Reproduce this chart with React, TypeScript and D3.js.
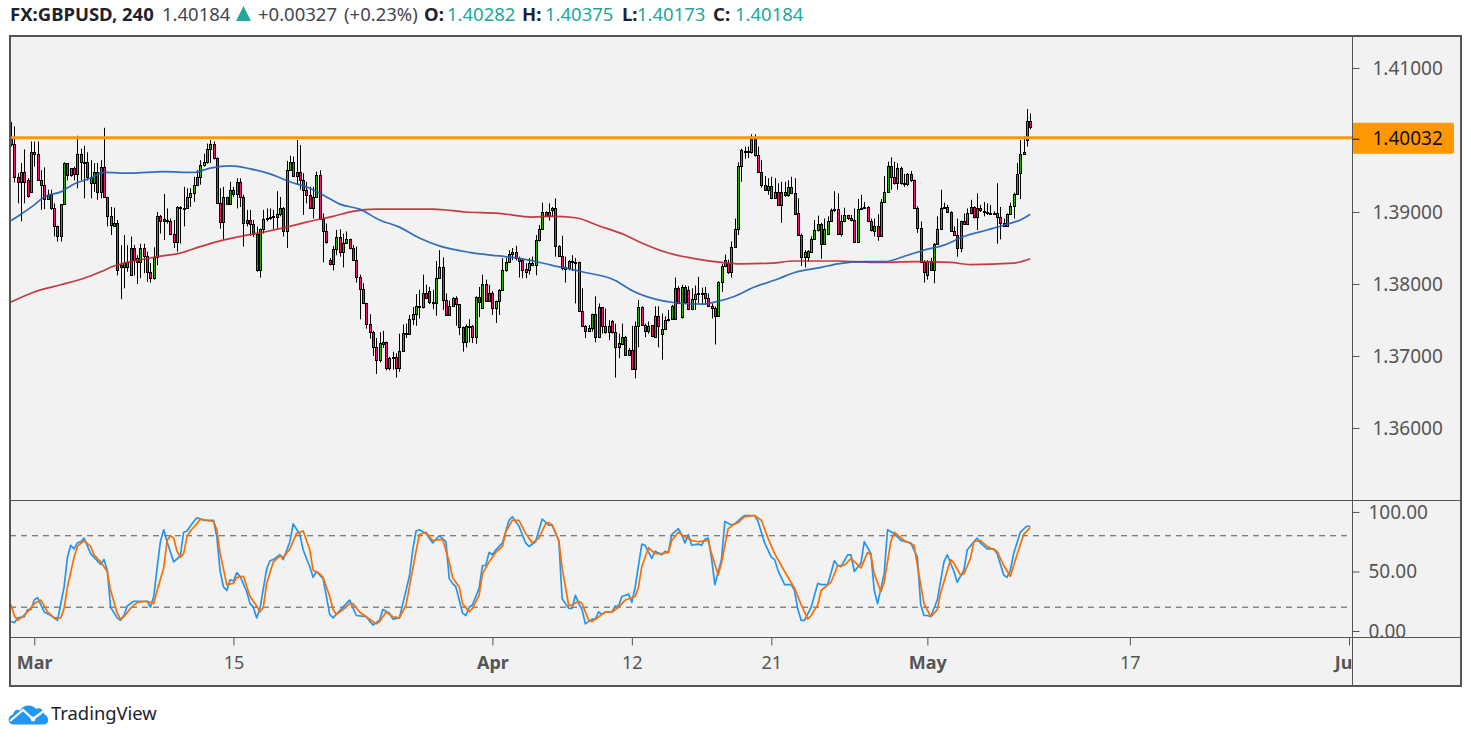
import React, { useEffect, useRef } from "react";
import * as d3 from "d3";

// 4h GBPUSD bars, oldest first
const opens = [
  1.4002,1.3995,1.3949,1.3942,1.3956,1.3944,1.3928,1.3984,1.3981,1.3944,
  1.3937,1.3918,1.3925,1.3906,1.3881,1.3866,1.3911,1.3968,1.3951,1.3961,
  1.3953,1.3981,1.3970,1.3969,1.3941,1.3941,1.3955,1.3928,1.3962,1.3921,
  1.3894,1.3881,1.3885,1.3824,1.3824,1.3824,1.3812,1.3850,1.3831,1.3831,
  1.3850,1.3839,1.3816,1.3808,1.3838,1.3895,1.3887,1.3889,1.3887,1.3870,
  1.3858,1.3907,1.3905,1.3905,1.3921,1.3926,1.3938,1.3949,1.3965,1.3969,
  1.3988,1.3994,1.3975,1.3912,1.3886,1.3921,1.3911,1.3931,1.3925,1.3942,
  1.3921,1.3889,1.3889,1.3884,1.3870,1.3819,1.3876,1.3890,1.3891,1.3893,
  1.3893,1.3897,1.3906,1.3874,1.3959,1.3969,1.3950,1.3955,1.3944,1.3931,
  1.3924,1.3906,1.3921,1.3951,1.3890,1.3873,1.3834,1.3828,1.3848,1.3865,
  1.3845,1.3857,1.3862,1.3850,1.3834,1.3810,1.3793,1.3773,1.3745,1.3734,
  1.3713,1.3694,1.3719,1.3719,1.3684,1.3697,1.3699,1.3684,1.3707,1.3731,
  1.3731,1.3751,1.3758,1.3768,1.3768,1.3788,1.3790,1.3775,1.3774,1.3809,
  1.3823,1.3778,1.3757,1.3769,1.3781,1.3772,1.3740,1.3719,1.3740,1.3742,
  1.3727,1.3782,1.3767,1.3800,1.3777,1.3788,1.3767,1.3776,1.3792,1.3819,
  1.3830,1.3841,1.3845,1.3836,1.3834,1.3821,1.3819,1.3827,1.3827,1.3861,
  1.3876,1.3900,1.3894,1.3903,1.3905,1.3853,1.3839,1.3821,1.3822,1.3832,
  1.3831,1.3830,1.3762,1.3742,1.3735,1.3739,1.3759,1.3727,1.3768,1.3741,
  1.3733,1.3749,1.3734,1.3713,1.3717,1.3727,1.3702,1.3709,1.3682,1.3741,
  1.3768,1.3743,1.3735,1.3743,1.3727,1.3756,1.3730,1.3737,1.3750,1.3752,
  1.3752,1.3795,1.3754,1.3796,1.3792,1.3765,1.3779,1.3786,1.3786,1.3787,
  1.3781,1.3770,1.3766,1.3756,1.3803,1.3825,1.3829,1.3816,1.3851,1.3876,
  1.3964,1.3985,1.3984,1.3984,1.4002,1.3979,1.3956,1.3938,1.3930,1.3936,
  1.3920,1.3928,1.3910,1.3928,1.3923,1.3935,1.3927,1.3898,1.3868,1.3837,
  1.3837,1.3844,1.3863,1.3875,1.3884,1.3856,1.3869,1.3888,1.3903,1.3904,
  1.3869,1.3887,1.3896,1.3891,1.3889,1.3859,1.3904,1.3906,1.3907,1.3887,
  1.3874,1.3880,1.3867,1.3914,1.3928,1.3964,1.3949,1.3941,1.3961,1.3941,
  1.3939,1.3953,1.3944,1.3906,1.3878,1.3831,1.3812,1.3832,1.3819,1.3856,
  1.3877,1.3906,1.3907,1.3900,1.3874,1.3868,1.3850,1.3887,1.3883,1.3898,
  1.3907,1.3893,1.3905,1.3901,1.3900,1.3899,1.3897,1.3899,1.3893,1.3885,
  1.3881,1.3897,1.3909,1.3925,1.3954,1.3981,1.4000,1.4027,
];
const closes = [
  1.3995,1.3949,1.3942,1.3956,1.3942,1.3922,1.3984,1.3981,1.3944,1.3937,
  1.3918,1.3924,1.3906,1.3881,1.3866,1.3911,1.3968,1.3951,1.3961,1.3953,
  1.3981,1.3970,1.3968,1.3948,1.3948,1.3955,1.3928,1.3962,1.3921,1.3894,
  1.3882,1.3885,1.3819,1.3826,1.3829,1.3830,1.3850,1.3833,1.3836,1.3850,
  1.3839,1.3816,1.3808,1.3838,1.3895,1.3887,1.3890,1.3888,1.3870,1.3858,
  1.3907,1.3906,1.3906,1.3921,1.3926,1.3938,1.3949,1.3965,1.3969,1.3988,
  1.3994,1.3975,1.3912,1.3886,1.3921,1.3911,1.3931,1.3925,1.3942,1.3921,
  1.3885,1.3885,1.3884,1.3869,1.3819,1.3876,1.3890,1.3891,1.3893,1.3894,
  1.3897,1.3906,1.3874,1.3959,1.3969,1.3950,1.3955,1.3944,1.3931,1.3924,
  1.3906,1.3921,1.3951,1.3890,1.3873,1.3859,1.3828,1.3848,1.3865,1.3845,
  1.3857,1.3862,1.3850,1.3834,1.3810,1.3793,1.3773,1.3745,1.3734,1.3713,
  1.3694,1.3718,1.3717,1.3684,1.3697,1.3699,1.3684,1.3707,1.3732,1.3732,
  1.3751,1.3758,1.3769,1.3769,1.3788,1.3781,1.3775,1.3774,1.3809,1.3823,
  1.3778,1.3757,1.3769,1.3781,1.3772,1.3740,1.3719,1.3741,1.3742,1.3727,
  1.3782,1.3775,1.3800,1.3777,1.3788,1.3767,1.3776,1.3792,1.3819,1.3830,
  1.3841,1.3845,1.3836,1.3832,1.3819,1.3817,1.3829,1.3829,1.3861,1.3876,
  1.3900,1.3894,1.3900,1.3905,1.3853,1.3839,1.3822,1.3823,1.3832,1.3831,
  1.3830,1.3762,1.3742,1.3735,1.3739,1.3759,1.3727,1.3768,1.3741,1.3733,
  1.3741,1.3734,1.3713,1.3718,1.3727,1.3702,1.3709,1.3682,1.3741,1.3768,
  1.3743,1.3735,1.3742,1.3728,1.3756,1.3741,1.3737,1.3750,1.3752,1.3769,
  1.3795,1.3773,1.3796,1.3775,1.3765,1.3779,1.3786,1.3787,1.3788,1.3781,
  1.3770,1.3766,1.3756,1.3803,1.3825,1.3833,1.3816,1.3851,1.3876,1.3964,
  1.3986,1.3984,1.3985,1.4002,1.3979,1.3956,1.3938,1.3930,1.3936,1.3920,
  1.3928,1.3910,1.3928,1.3923,1.3935,1.3927,1.3897,1.3868,1.3838,1.3844,
  1.3846,1.3863,1.3875,1.3884,1.3856,1.3876,1.3888,1.3903,1.3904,1.3869,
  1.3887,1.3896,1.3891,1.3889,1.3859,1.3904,1.3906,1.3907,1.3887,1.3875,
  1.3880,1.3867,1.3914,1.3928,1.3964,1.3949,1.3941,1.3961,1.3940,1.3939,
  1.3953,1.3944,1.3906,1.3878,1.3830,1.3816,1.3832,1.3819,1.3856,1.3877,
  1.3906,1.3907,1.3900,1.3874,1.3868,1.3850,1.3888,1.3883,1.3898,1.3907,
  1.3893,1.3905,1.3903,1.3900,1.3899,1.3898,1.3899,1.3893,1.3885,1.3881,
  1.3897,1.3909,1.3925,1.3953,1.3981,1.3984,1.4027,1.4018,
];
const highs = [
  1.4025,1.4019,1.3954,1.3968,1.3987,1.3947,1.3998,1.3998,1.3998,1.3958,
  1.3962,1.3931,1.3931,1.3912,1.3881,1.3911,1.3969,1.3968,1.3961,1.3963,
  1.4006,1.3988,1.3992,1.3983,1.3972,1.3968,1.3968,1.3972,1.4017,1.3921,
  1.3907,1.3906,1.3889,1.3854,1.3868,1.3854,1.3866,1.3854,1.3840,1.3856,
  1.3856,1.3845,1.3829,1.3851,1.3900,1.3896,1.3925,1.3905,1.3891,1.3889,
  1.3908,1.3908,1.3935,1.3933,1.3933,1.3949,1.3958,1.3972,1.3981,1.3995,
  1.4000,1.3998,1.3976,1.3933,1.3935,1.3921,1.3942,1.3935,1.3947,1.3947,
  1.3924,1.3903,1.3903,1.3889,1.3880,1.3877,1.3903,1.3905,1.3905,1.3903,
  1.3929,1.3921,1.3907,1.3971,1.3978,1.3977,1.4000,1.3993,1.3954,1.3942,
  1.3935,1.3935,1.3956,1.3958,1.3898,1.3884,1.3836,1.3853,1.3875,1.3876,
  1.3870,1.3873,1.3863,1.3854,1.3852,1.3813,1.3801,1.3773,1.3758,1.3735,
  1.3725,1.3733,1.3735,1.3720,1.3699,1.3706,1.3704,1.3731,1.3744,1.3745,
  1.3757,1.3768,1.3786,1.3792,1.3813,1.3799,1.3796,1.3792,1.3832,1.3847,
  1.3837,1.3787,1.3777,1.3782,1.3783,1.3772,1.3741,1.3744,1.3751,1.3743,
  1.3783,1.3796,1.3813,1.3806,1.3799,1.3790,1.3777,1.3793,1.3836,1.3836,
  1.3847,1.3850,1.3853,1.3838,1.3836,1.3829,1.3836,1.3838,1.3868,1.3882,
  1.3913,1.3901,1.3912,1.3907,1.3919,1.3854,1.3867,1.3838,1.3833,1.3840,
  1.3836,1.3831,1.3794,1.3743,1.3743,1.3759,1.3783,1.3773,1.3768,1.3766,
  1.3750,1.3750,1.3745,1.3731,1.3745,1.3728,1.3711,1.3742,1.3748,1.3778,
  1.3769,1.3745,1.3748,1.3743,1.3769,1.3769,1.3759,1.3755,1.3764,1.3771,
  1.3809,1.3797,1.3799,1.3798,1.3797,1.3794,1.3798,1.3810,1.3795,1.3796,
  1.3787,1.3773,1.3769,1.3804,1.3828,1.3841,1.3834,1.3859,1.3891,1.3969,
  1.3988,1.3991,1.3991,1.4008,1.4008,1.3991,1.3972,1.3950,1.3947,1.3949,
  1.3947,1.3940,1.3942,1.3942,1.3944,1.3949,1.3947,1.3919,1.3870,1.3847,
  1.3847,1.3866,1.3889,1.3895,1.3885,1.3891,1.3894,1.3905,1.3929,1.3926,
  1.3896,1.3906,1.3896,1.3896,1.3905,1.3918,1.3924,1.3914,1.3908,1.3891,
  1.3891,1.3897,1.3918,1.3950,1.3970,1.3976,1.3970,1.3968,1.3963,1.3953,
  1.3954,1.3957,1.3945,1.3908,1.3887,1.3833,1.3833,1.3836,1.3857,1.3894,
  1.3931,1.3913,1.3910,1.3901,1.3880,1.3891,1.3888,1.3898,1.3905,1.3917,
  1.3908,1.3926,1.3910,1.3914,1.3912,1.3910,1.3901,1.3940,1.3907,1.3891,
  1.3898,1.3913,1.3927,1.3968,1.4000,1.4005,1.4043,1.4037,
];
const lows = [
  1.3991,1.3941,1.3912,1.3887,1.3912,1.3920,1.3927,1.3963,1.3944,1.3903,
  1.3904,1.3917,1.3903,1.3866,1.3859,1.3859,1.3911,1.3944,1.3949,1.3944,
  1.3933,1.3944,1.3919,1.3944,1.3919,1.3928,1.3917,1.3919,1.3921,1.3880,
  1.3868,1.3880,1.3812,1.3779,1.3794,1.3817,1.3812,1.3812,1.3800,1.3808,
  1.3815,1.3803,1.3802,1.3806,1.3826,1.3870,1.3861,1.3884,1.3868,1.3850,
  1.3845,1.3856,1.3880,1.3905,1.3907,1.3914,1.3938,1.3938,1.3963,1.3967,
  1.3968,1.3973,1.3912,1.3877,1.3862,1.3911,1.3910,1.3921,1.3905,1.3907,
  1.3852,1.3880,1.3867,1.3865,1.3817,1.3809,1.3870,1.3887,1.3889,1.3876,
  1.3877,1.3894,1.3866,1.3850,1.3958,1.3949,1.3938,1.3931,1.3896,1.3912,
  1.3904,1.3891,1.3921,1.3889,1.3830,1.3856,1.3826,1.3819,1.3840,1.3838,
  1.3823,1.3856,1.3848,1.3833,1.3802,1.3751,1.3772,1.3738,1.3724,1.3700,
  1.3675,1.3691,1.3711,1.3680,1.3680,1.3681,1.3670,1.3678,1.3706,1.3725,
  1.3731,1.3743,1.3742,1.3752,1.3766,1.3780,1.3772,1.3765,1.3756,1.3808,
  1.3764,1.3756,1.3756,1.3768,1.3742,1.3729,1.3706,1.3712,1.3719,1.3718,
  1.3717,1.3754,1.3766,1.3775,1.3775,1.3757,1.3746,1.3757,1.3791,1.3817,
  1.3829,1.3833,1.3833,1.3809,1.3808,1.3808,1.3813,1.3826,1.3812,1.3859,
  1.3875,1.3894,1.3888,1.3894,1.3838,1.3838,1.3819,1.3802,1.3819,1.3818,
  1.3773,1.3761,1.3741,1.3725,1.3734,1.3734,1.3719,1.3725,1.3731,1.3731,
  1.3722,1.3731,1.3670,1.3697,1.3715,1.3701,1.3701,1.3681,1.3669,1.3712,
  1.3742,1.3726,1.3731,1.3726,1.3726,1.3712,1.3695,1.3736,1.3748,1.3751,
  1.3751,1.3772,1.3752,1.3772,1.3764,1.3764,1.3764,1.3773,1.3772,1.3771,
  1.3769,1.3752,1.3716,1.3755,1.3789,1.3824,1.3814,1.3809,1.3850,1.3868,
  1.3942,1.3974,1.3975,1.3981,1.3977,1.3956,1.3934,1.3930,1.3924,1.3919,
  1.3919,1.3909,1.3885,1.3921,1.3921,1.3926,1.3896,1.3868,1.3825,1.3823,
  1.3831,1.3844,1.3861,1.3873,1.3835,1.3856,1.3868,1.3887,1.3900,1.3868,
  1.3866,1.3886,1.3889,1.3887,1.3857,1.3858,1.3903,1.3905,1.3886,1.3873,
  1.3866,1.3860,1.3866,1.3914,1.3928,1.3931,1.3938,1.3931,1.3938,1.3935,
  1.3936,1.3942,1.3905,1.3871,1.3829,1.3802,1.3806,1.3819,1.3801,1.3856,
  1.3876,1.3905,1.3899,1.3873,1.3867,1.3838,1.3844,1.3882,1.3882,1.3897,
  1.3891,1.3875,1.3900,1.3894,1.3896,1.3896,1.3896,1.3856,1.3862,1.3880,
  1.3880,1.3896,1.3891,1.3924,1.3918,1.3981,1.3991,1.4015,
];

// moving averages, read at the bars where the curve bends
const blueMaBars = [0,3,7,10,15,19,24,28,36,46,55,60,66,72,78,84,90,95,99,105,111,117,123,129,138,147,154,163,172,182,187,194,200,208,213,218,223,231,236,244,249,257,263,270,275,281,287,294,300,304,307];
const blueMa = [1.3888,1.3897,1.3910,1.3921,1.3928,1.3939,1.3947,1.3955,1.3954,1.3956,1.3955,1.3961,1.3964,1.3960,1.3953,1.3942,1.3933,1.3921,1.3911,1.3904,1.3889,1.3879,1.3864,1.3853,1.3844,1.3839,1.3835,1.3826,1.3817,1.3805,1.3791,1.3779,1.3774,1.3772,1.3776,1.3783,1.3794,1.3807,1.3816,1.3823,1.3828,1.3831,1.3831,1.3840,1.3847,1.3854,1.3866,1.3875,1.3883,1.3889,1.3897];
const redMaBars = [0,7,15,22,27,31,37,44,51,57,63,70,77,83,89,97,103,110,127,137,147,157,163,170,177,185,190,198,205,214,220,229,236,249,260,273,283,289,302,307];
const redMa = [1.3775,1.3789,1.3799,1.3808,1.3817,1.3825,1.3832,1.3838,1.3843,1.3852,1.3860,1.3867,1.3873,1.3879,1.3886,1.3894,1.3901,1.3904,1.3904,1.3900,1.3898,1.3893,1.3894,1.3892,1.3881,1.3868,1.3857,1.3843,1.3836,1.3830,1.3828,1.3829,1.3832,1.3832,1.3830,1.3831,1.3830,1.3827,1.3829,1.3835];

// stochastic %K and %D
const stochKBars = [
  0,1,2,4,5,6,7,8,10,12,14,16,17,18,19,20,21,22,24,27,
  28,29,30,32,33,34,35,37,41,42,43,44,45,46,47,49,51,52,53,55,
  56,58,61,62,63,64,65,66,67,68,69,71,72,73,74,75,77,78,79,81,
  82,84,85,87,88,90,91,92,94,96,97,100,102,104,107,109,111,112,114,115,
  117,120,121,122,123,125,127,129,131,132,133,134,136,137,138,139,141,142,143,144,
  145,146,148,150,151,153,155,156,158,160,162,163,165,166,168,169,170,171,172,173,
  175,176,177,178,179,181,182,183,184,186,187,188,190,191,193,194,196,197,198,199,
  201,202,203,204,205,207,208,209,210,211,212,214,215,217,218,220,221,224,225,227,
  229,230,231,233,235,236,237,238,239,241,243,244,246,248,249,250,252,253,254,256,
  257,259,260,261,263,264,266,268,271,273,274,275,276,277,279,281,282,284,285,287,
  288,290,291,292,294,296,297,299,300,301,302,304,306,307,
];
const stochK = [
  8,7,11,12,18,18,26,28,16,13,9,37,62,72,69,74,75,78,65,56,
  60,51,20,11,9,13,21,25,25,20,29,53,75,85,75,58,63,83,84,92,
  95,93,93,79,50,37,34,43,42,49,46,33,23,20,11,19,52,59,60,64,
  60,75,90,81,68,54,45,50,44,14,11,20,26,13,12,5,9,18,15,10,
  11,46,68,84,85,82,74,80,75,44,40,37,15,13,20,22,36,55,55,66,
  64,68,74,93,96,88,74,71,75,94,89,89,76,27,19,19,30,23,18,6,
  10,10,16,14,16,16,21,21,29,31,24,37,73,72,61,67,64,67,66,81,
  86,81,74,81,72,73,72,77,78,61,39,60,92,89,90,95,97,97,92,74,
  62,60,51,39,39,34,18,9,9,20,40,39,39,59,55,54,64,64,50,57,
  75,65,34,23,48,85,82,76,74,62,22,13,13,12,26,58,64,50,41,51,
  68,75,78,74,69,69,65,47,45,51,65,83,88,88,
];
const stochDBars = [
  0,1,2,3,5,7,9,11,13,15,16,17,19,20,22,24,25,27,29,30,
  32,33,34,36,38,41,43,44,46,47,48,49,50,51,52,53,54,56,57,61,
  62,63,65,67,68,70,72,74,75,76,77,79,81,82,84,86,88,90,91,93,
  94,96,97,98,100,102,103,105,107,110,111,113,115,117,119,120,122,123,125,127,
  130,132,133,135,136,138,139,141,142,144,146,148,149,151,153,155,157,159,161,162,
  163,165,166,168,169,171,172,174,175,177,179,181,183,185,188,189,190,192,194,196,
  198,199,201,203,205,207,210,211,213,214,216,218,219,221,224,226,228,230,233,236,
  238,240,241,243,244,247,249,251,253,256,258,259,260,262,263,265,266,269,272,273,
  275,277,279,280,283,284,286,287,289,290,292,294,297,299,301,303,305,307,
];
const stochD = [
  22,13,9,11,16,23,26,16,11,11,19,37,62,71,76,71,64,58,50,34,
  15,10,12,19,24,25,23,34,53,76,80,78,67,62,65,79,84,90,94,92,
  85,65,39,40,45,46,29,21,16,20,40,58,63,62,69,82,84,68,51,48,
  45,29,18,14,18,23,23,16,12,6,8,16,12,11,22,37,67,81,83,76,
  77,58,45,37,23,16,19,30,48,58,66,71,83,93,93,82,74,78,90,91,
  89,76,53,21,22,25,23,9,8,12,16,16,20,26,29,37,54,70,65,65,
  66,76,83,79,76,75,76,65,47,57,86,90,91,96,97,93,78,65,50,36,
  22,10,13,22,34,41,55,55,61,53,66,64,48,33,41,75,83,76,72,55,
  23,12,18,32,60,57,47,48,61,75,76,71,67,55,46,64,81,87,
];

// 1.40000 is covered by the level tag in the original, so it is not listed
const priceTicks = [1.36, 1.37, 1.38, 1.39, 1.41];
const stochTicks = [0, 50, 100];
const stochLevels = [20, 80];
const timeTickBars = [7, 67, 145, 187, 229, 276, 337, 403];
const timeTickLabels = ["Mar", "15", "Apr", "12", "21", "May", "17", "Jun"];
const monthLabels = ["Mar", "Apr", "May", "Jun"];
const levelPrice = 1.40032;

const FONT = "'Noto Sans', sans-serif";
const AXIS_COLOR = "#555";

const App = () => {
  const chartRef = useRef<SVGSVGElement | null>(null);

  useEffect(() => {
    if (!chartRef.current) return;
    const svg = d3.select(chartRef.current);
    svg.selectAll("*").remove();

    const left = 10;
    const right = 1461;
    const axisX = 1352;
    const top = 36;
    const paneBottom = 500;
    const stochBottom = 637;
    const bottom = 686;

    const x = d3.scaleLinear().domain([0, 403]).range([11, 1349]);
    const y = d3.scaleLinear().domain([1.35, 1.41431]).range([paneBottom, 37]);
    const yStoch = d3.scaleLinear().domain([-5.04, 109.2]).range([stochBottom, 501]);

    // panel background
    svg.append("rect")
      .attr("x", left).attr("y", top)
      .attr("width", right - left).attr("height", bottom - top)
      .attr("fill", "#f2f2f2");

    const defs = svg.append("defs");
    const addClip = (id: string, cx: number, cy: number, w: number, h: number) =>
      defs.append("clipPath").attr("id", id).append("rect")
        .attr("x", cx).attr("y", cy).attr("width", w).attr("height", h);
    addClip("clip-price", left, top, axisX - left, paneBottom - top);
    addClip("clip-stoch", left, paneBottom, axisX - left, stochBottom - paneBottom);
    addClip("clip-stoch-axis", axisX, paneBottom, right - axisX, stochBottom - paneBottom);
    addClip("clip-time", left, stochBottom, axisX - left, bottom - stochBottom);

    // candles
    const bars = d3.range(opens.length);
    const candles = svg.append("g").attr("clip-path", "url(#clip-price)");
    candles.selectAll("line")
      .data(bars)
      .join("line")
      .attr("x1", (i) => Math.round(x(i)) + 0.5)
      .attr("x2", (i) => Math.round(x(i)) + 0.5)
      .attr("y1", (i) => y(highs[i]))
      .attr("y2", (i) => y(lows[i]))
      .attr("stroke", "#000")
      .attr("stroke-width", 1);
    candles.selectAll("rect")
      .data(bars)
      .join("rect")
      .attr("x", (i) => Math.round(x(i)) - 0.5)
      .attr("width", 2)
      .attr("y", (i) => Math.round(y(Math.max(opens[i], closes[i]))) + 0.5)
      .attr("height", (i) =>
        Math.max(1, Math.round(y(Math.min(opens[i], closes[i]))) - Math.round(y(Math.max(opens[i], closes[i]))))
      )
      .attr("fill", (i) => (closes[i] >= opens[i] ? "#2ea80f" : "#ef1a5c"))
      .attr("stroke", "#000")
      .attr("stroke-width", 1);

    // moving averages
    const priceLine = (ids: number[], vals: number[], color: string) => {
      const line = d3.line<number>()
        .x((_, k) => x(ids[k]))
        .y((d) => y(d))
        .curve(d3.curveMonotoneX);
      svg.append("path")
        .attr("clip-path", "url(#clip-price)")
        .attr("d", line(vals))
        .attr("fill", "none")
        .attr("stroke", color)
        .attr("stroke-width", 1.7)
        .attr("stroke-opacity", 0.9);
    };
    priceLine(redMaBars, redMa, "#c0272d");
    priceLine(blueMaBars, blueMa, "#1f5fb4");

    // horizontal level
    svg.append("line")
      .attr("x1", left).attr("x2", axisX)
      .attr("y1", y(levelPrice)).attr("y2", y(levelPrice))
      .attr("stroke", "#ff9800")
      .attr("stroke-width", 3);

    // stochastic pane
    svg.append("g").selectAll("line")
      .data(stochLevels)
      .join("line")
      .attr("x1", left).attr("x2", 1348)
      .attr("y1", (d) => yStoch(d))
      .attr("y2", (d) => yStoch(d))
      .attr("stroke", AXIS_COLOR)
      .attr("stroke-width", 1)
      .attr("stroke-dasharray", "6 5");

    const stochLine = (ids: number[], vals: number[], color: string) => {
      const line = d3.line<number>()
        .x((_, k) => x(ids[k]))
        .y((d) => yStoch(d));
      svg.append("path")
        .attr("clip-path", "url(#clip-stoch)")
        .attr("d", line(vals))
        .attr("fill", "none")
        .attr("stroke", color)
        .attr("stroke-width", 1.7)
        .attr("stroke-linejoin", "round");
    };
    stochLine(stochKBars, stochK, "#2196f3");
    stochLine(stochDBars, stochD, "#ff6d00");

    // separators
    svg.append("line").attr("x1", left).attr("x2", right)
      .attr("y1", paneBottom + 0.5).attr("y2", paneBottom + 0.5)
      .attr("stroke", AXIS_COLOR);
    svg.append("line").attr("x1", left).attr("x2", right)
      .attr("y1", stochBottom + 0.5).attr("y2", stochBottom + 0.5)
      .attr("stroke", AXIS_COLOR);

    // orange price tag sits under the axis ticks
    svg.append("rect")
      .attr("x", axisX).attr("y", y(levelPrice) - 15)
      .attr("width", 102).attr("height", 31)
      .attr("rx", 2)
      .attr("fill", "#ff9800");

    const styleAxis = (g: d3.Selection<SVGGElement, unknown, null, undefined>, size: number) => {
      g.select(".domain").remove();
      g.selectAll(".tick line").attr("stroke", AXIS_COLOR);
      g.selectAll(".tick text")
        .attr("font-family", FONT)
        .attr("font-size", size)
        .attr("fill", AXIS_COLOR);
    };

    const priceAxis = svg.append("g")
      .attr("transform", `translate(${axisX + 0.5},0)`)
      .call(d3.axisRight(y).tickValues(priceTicks).tickFormat((d) => (+d).toFixed(5)).tickSize(7).tickPadding(13));
    styleAxis(priceAxis, 19);

    const levelAxis = svg.append("g")
      .attr("transform", `translate(${axisX + 0.5},1)`)
      .call(d3.axisRight(y).tickValues([levelPrice]).tickFormat((d) => (+d).toFixed(5)).tickSize(7).tickPadding(13));
    styleAxis(levelAxis, 19);
    levelAxis.selectAll(".tick line").attr("stroke", "#111");
    levelAxis.selectAll(".tick text").attr("fill", "#111");

    const stochAxis = svg.append("g")
      .attr("clip-path", "url(#clip-stoch-axis)")
      .append("g")
      .attr("transform", `translate(${axisX + 0.5},0)`)
      .call(d3.axisRight(yStoch).tickValues(stochTicks).tickFormat((d) => (+d).toFixed(2)).tickSize(7).tickPadding(9));
    styleAxis(stochAxis, 19);

    const timeAxis = svg.append("g")
      .attr("clip-path", "url(#clip-time)")
      .append("g")
      .attr("transform", `translate(0,${stochBottom + 0.5})`)
      .call(
        d3.axisBottom(x)
          .tickValues(timeTickBars)
          .tickFormat((_, k) => timeTickLabels[k])
          .tickSize(8)
          .tickPadding(11)
      );
    styleAxis(timeAxis, 18);
    timeAxis.selectAll<SVGTextElement, number>(".tick text")
      .attr("font-weight", (_, k) => (monthLabels.includes(timeTickLabels[k]) ? 700 : 400));

    // frame
    svg.append("line").attr("x1", axisX + 0.5).attr("x2", axisX + 0.5)
      .attr("y1", top).attr("y2", bottom)
      .attr("stroke", AXIS_COLOR);
    svg.append("rect")
      .attr("x", left).attr("y", top)
      .attr("width", right - left).attr("height", bottom - top)
      .attr("fill", "none")
      .attr("stroke", AXIS_COLOR)
      .attr("stroke-width", 2);

    // header
    const header = svg.append("g")
      .attr("font-family", FONT)
      .attr("font-size", 18.5);
    const addText = (tx: number, label: string, color: string, weight = 400) =>
      header.append("text")
        .attr("x", tx).attr("y", 21)
        .attr("fill", color)
        .attr("font-weight", weight)
        .text(label);
    addText(10, "FX:GBPUSD, 240", "#1e222d", 700);
    addText(162, "1.40184", "#434651");
    header.append("path").attr("d", "M236 21 L243.5 6 L251 21 Z").attr("fill", "#26a69a");
    addText(258, "+0.00327", "#434651");
    addText(344, "(+0.23%)", "#434651");
    addText(424, "O:", "#1e222d", 700);
    addText(447, "1.40282", "#26a69a");
    addText(522, "H:", "#1e222d", 700);
    addText(545, "1.40375", "#26a69a");
    addText(622, "L:", "#1e222d", 700);
    addText(637, "1.40173", "#26a69a");
    addText(713, "C:", "#1e222d", 700);
    addText(735, "1.40184", "#26a69a");

    // watermark
    const logo = svg.append("g");
    logo.append("path")
      .attr("d", "M14 724.5 C7 724.5 7 716 13 714.5 C14 710 18 709 20 710.5 C23 704 33 704 36 709 C40 707 44 710 44 714 C49 716 50 724 44 724.5 Z")
      .attr("fill", "#2196f3");
    logo.append("path")
      .attr("d", "M10 721 L23 710 L33 719 L45 710")
      .attr("fill", "none")
      .attr("stroke", "#fff")
      .attr("stroke-width", 2.2);
    logo.append("circle").attr("cx", 33).attr("cy", 719).attr("r", 2.4).attr("fill", "#fff");
    logo.append("text")
      .attr("x", 51).attr("y", 720)
      .attr("font-family", FONT)
      .attr("font-size", 18.4)
      .attr("fill", "#1e222d")
      .text("TradingView");
  }, []);

  return (
    <svg
      ref={chartRef}
      width={1471}
      height={741}
      style={{ position: "absolute", left: 0, top: 0, display: "block", background: "#fff" }}
    ></svg>
  );
};

export default App;
